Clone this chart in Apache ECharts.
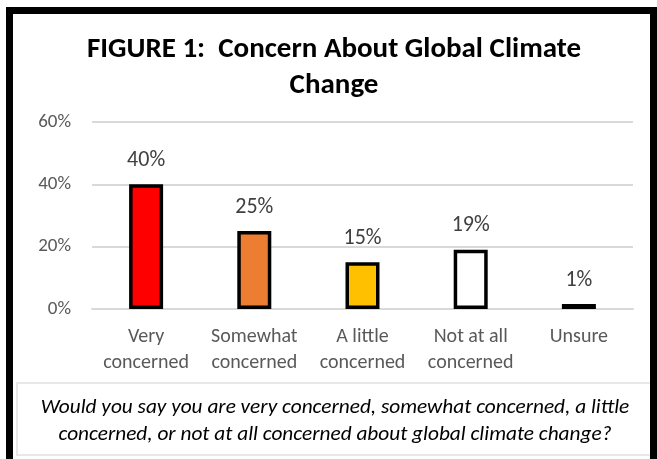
<!DOCTYPE html>
<html>
<head>
<meta charset="utf-8">
<script src="https://cdn.jsdelivr.net/npm/echarts@6/dist/echarts.min.js"></script>
<style>
  html, body { margin: 0; padding: 0; background: #fff; }
  #chart { width: 657px; height: 459px; }
</style>
</head>
<body>
<div id="chart"></div>
<script>
// data
var categories = ['Very\nconcerned', 'Somewhat\nconcerned', 'A little\nconcerned', 'Not at all\nconcerned', 'Unsure'];
var values = [40, 25, 15, 19, 1];
var yTicks = [0, 20, 40, 60];
var barColors = ['#FF0000', '#ED7D31', '#FFC000', '#FFFFFF', '#000000'];

var titleText = 'FIGURE 1:  Concern About Global Climate\nChange';
var questionText = 'Would you say you are very concerned, somewhat concerned, a little\nconcerned, or not at all concerned about global climate change?';

var font = 'Carlito, Lato, sans-serif';

var myChart = echarts.init(document.getElementById('chart'));

var barData = values.map(function (v, i) {
    return { value: v, itemStyle: { color: barColors[i] } };
});

var options = {
    backgroundColor: '#fff',
    animation: false,
    grid: { left: 92, right: 24, top: 122, bottom: 150 },
    xAxis: {
        type: 'category',
        data: categories,
        axisLine: { lineStyle: { color: '#d9d9d9', width: 2 } },
        axisTick: { show: false },
        axisLabel: {
            color: '#595959', fontSize: 20, fontFamily: font,
            lineHeight: 26, margin: 15, interval: 0
        }
    },
    yAxis: {
        type: 'value',
        min: yTicks[0],
        max: yTicks[yTicks.length - 1],
        interval: yTicks[1] - yTicks[0],
        axisLine: { show: false },
        axisTick: { show: false },
        splitLine: { lineStyle: { color: '#d9d9d9', width: 2 } },
        axisLabel: {
            color: '#595959', fontSize: 19, fontFamily: font, margin: 21,
            formatter: '{value}%'
        }
    },
    series: [{
        type: 'bar',
        data: barData,
        barWidth: 34,
        barMinHeight: 5,
        itemStyle: { borderColor: '#000', borderWidth: 3.5 },
        label: {
            show: true, position: 'top', distance: 13,
            color: '#404040', fontSize: 22, fontFamily: font,
            formatter: '{c}%'
        }
    }],
    graphic: [
        {
            type: 'rect', z: 100, silent: true,
            shape: { x: 9.5, y: 10.5, width: 644, height: 520 },
            style: { fill: 'none', stroke: '#000', lineWidth: 7 }
        },
        {
            type: 'rect', z: 90, silent: true,
            shape: { x: 17, y: 383, width: 634, height: 72 },
            style: { fill: '#fff', stroke: '#e8e8e8', lineWidth: 2 }
        },
        {
            type: 'text', z: 95, silent: true,
            x: 335, y: 421,
            style: {
                text: questionText, fill: '#000', align: 'center', verticalAlign: 'middle',
                font: 'italic 21.3px ' + font, lineHeight: 27
            }
        },
        {
            type: 'text', z: 95, silent: true,
            x: 334, y: 68,
            style: {
                text: titleText, fill: '#000', align: 'center', verticalAlign: 'middle',
                font: 'bold 29px ' + font, lineHeight: 36
            }
        }
    ]
};

myChart.setOption(options);
</script>
</body>
</html>
